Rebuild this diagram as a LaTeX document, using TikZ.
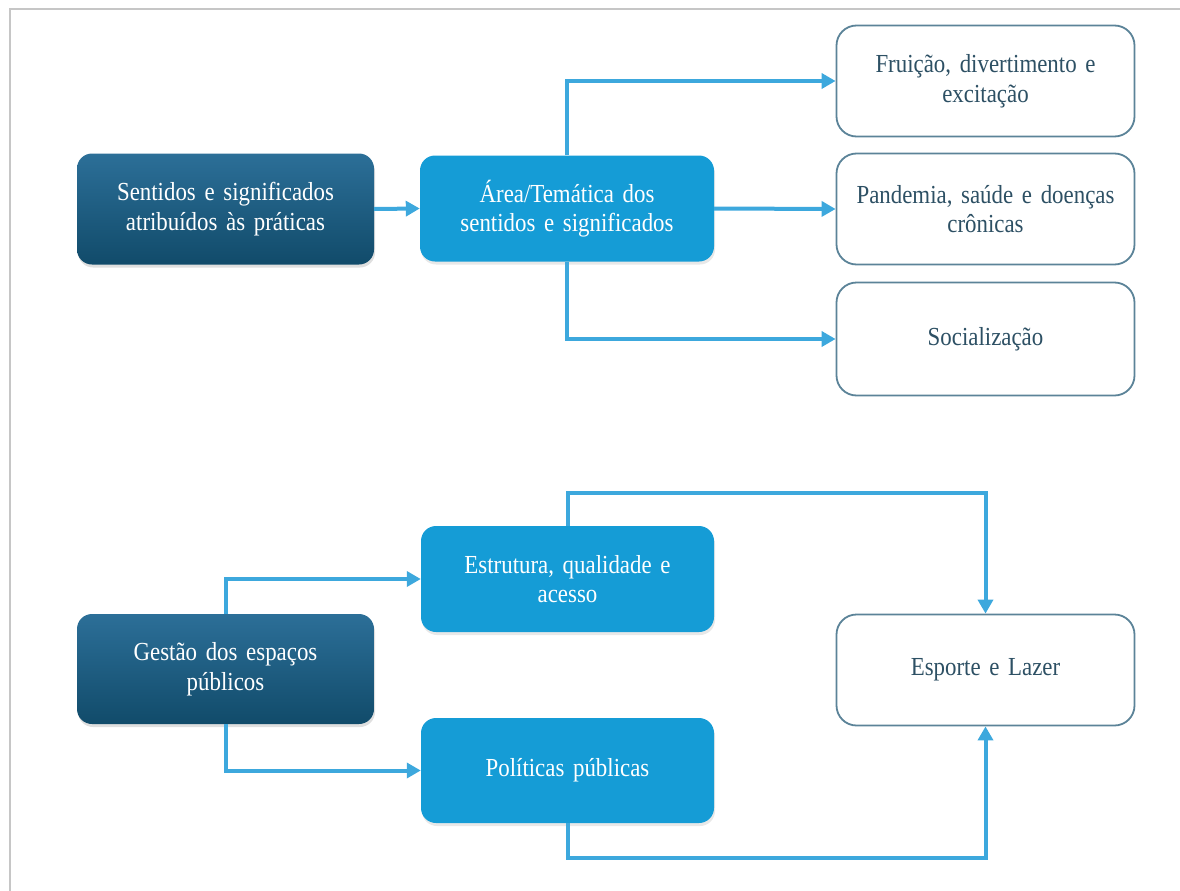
\documentclass[tikz,border=0pt]{standalone}
\usepackage{fontspec}
\setmainfont[FakeStretch=0.88]{Liberation Serif}
\usetikzlibrary{arrows.meta,shadows}
\definecolor{darktop}{HTML}{2C6F98}
\definecolor{darkbot}{HTML}{114B6A}
\definecolor{midblue}{HTML}{159CD6}
\definecolor{arrowc}{HTML}{3DA8DD}
\definecolor{wborder}{HTML}{5B8398}
\definecolor{wtext}{HTML}{2D5064}
\definecolor{frame}{HTML}{C6C6C6}
\newcommand{\boxfont}{\fontsize{26}{29.5}\selectfont\fontdimen2\font=4.4pt\relax}
\begin{document}
\begin{tikzpicture}[x=1pt,y=-1pt,
  every node/.style={font=\boxfont, align=center, inner sep=4pt},
  darkbox/.style={rounded corners=15pt, top color=darktop, bottom color=darkbot, draw=none, text=white,
    minimum width=297pt, minimum height=111pt, text width=280pt,
    drop shadow={shadow xshift=1pt, shadow yshift=-3pt, opacity=0.25}},
  bluebox/.style={rounded corners=15pt, fill=midblue, draw=none, text=white,
    minimum width=294pt, minimum height=106pt, text width=280pt,
    drop shadow={shadow xshift=1pt, shadow yshift=-3pt, opacity=0.18}},
  whitebox/.style={rounded corners=20pt, fill=white, draw=wborder, line width=1.8pt, text=wtext,
    minimum width=298pt, minimum height=111pt, text width=285pt},
  conn/.style={draw=arrowc, line width=4pt, -{Triangle[length=14pt,width=15pt]}}
]
\useasboundingbox (0,0) rectangle (1180,891);
\draw[frame, line width=2pt] (10,891) -- (10,9) -- (1180,9);

% top part
\node[darkbox] (S) at (225.5,209) {Sentidos e significados\\atribuídos às práticas};
\node[bluebox] (A) at (567,208.5) {Área/Temática dos\\sentidos e significados};
\node[whitebox] (F) at (985.5,81) {Fruição, divertimento e\\excitação};
\node[whitebox] (P1) at (985.5,209) {Pandemia, saúde e doenças\\crônicas};
\node[whitebox, minimum height=113pt] (SO) at (985.5,339) {Socialização};

\draw[conn] (S.east) -- (A.west);
\draw[conn] (A.north) |- (F.west);
\draw[conn] (A.east) -- (P1.west);
\draw[conn] (A.south) |- (SO.west);

% bottom part
\node[darkbox, minimum height=110pt] (G) at (225.5,669) {Gestão dos espaços\\públicos};
\node[bluebox, minimum width=293pt] (E) at (567.5,579) {Estrutura, qualidade e\\acesso};
\node[bluebox, minimum width=293pt, minimum height=105pt] (PP) at (567.5,770.5) {Políticas públicas};
\node[whitebox] (Z) at (985.5,670) {Esporte e Lazer};

\draw[conn] (G.north) |- (E.west);
\draw[conn] (G.south) |- (PP.west);
\coordinate (e1) at ([yshift=33pt]E.north);
\coordinate (p1) at ([yshift=-35pt]PP.south);
\draw[conn] (E.north) -- (e1) -| (Z.north);
\draw[conn] (PP.south) -- (p1) -| (Z.south);
\end{tikzpicture}
\end{document}
